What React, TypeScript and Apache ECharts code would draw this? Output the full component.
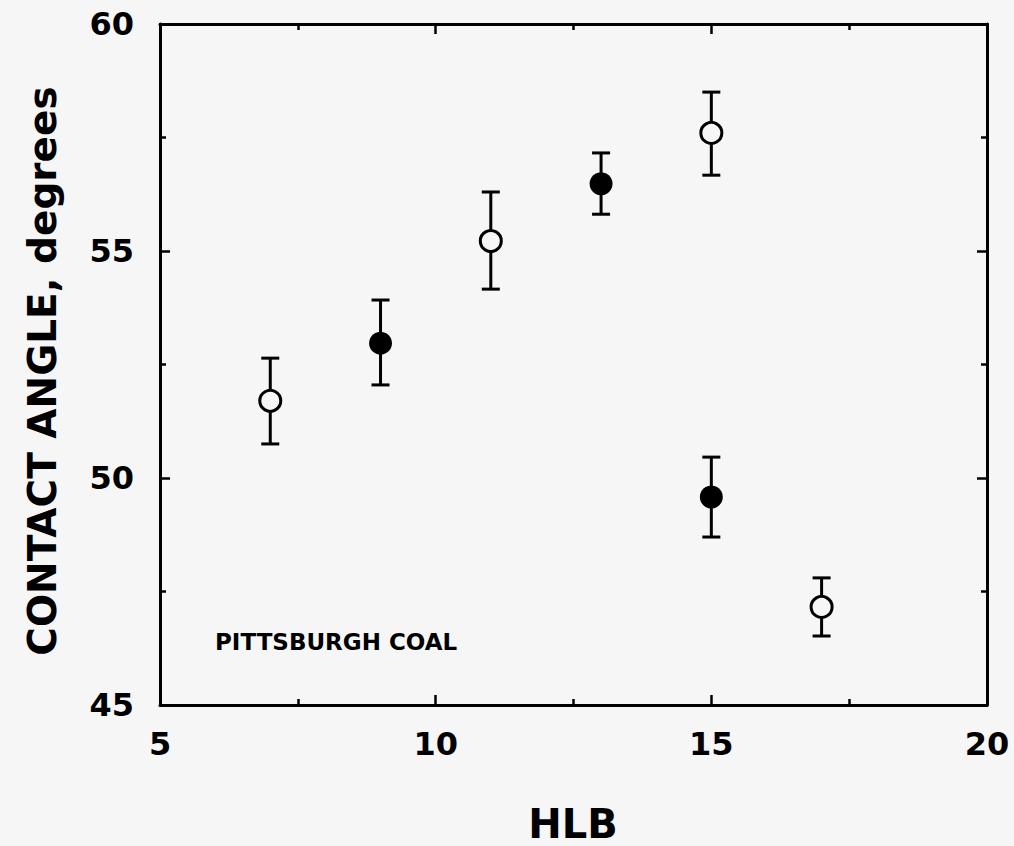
import React, { useEffect, useRef } from "react";
import * as echarts from "echarts";

const xTicks = [5, 10, 15, 20];
const yTicks = [45, 50, 55, 60];

const openHLB = [7, 11, 15, 17];
const openAngle = [51.7, 55.22, 57.6, 47.16];
const openLow = [50.75, 54.16, 56.67, 46.52];
const openHigh = [52.64, 56.3, 58.5, 47.8];

const filledHLB = [9, 13, 15];
const filledAngle = [52.97, 56.48, 49.58];
const filledLow = [52.05, 55.81, 48.7];
const filledHigh = [53.92, 57.16, 50.46];

const xTitle = "HLB";
const yTitle = "CONTACT ANGLE, degrees";
const note = "PITTSBURGH COAL";

const BG = "#f6f6f6";
const FONT = "'DejaVu Sans', 'Liberation Sans', Arial, sans-serif";

export default function App() {
  const ref = useRef<HTMLDivElement>(null);

  useEffect(() => {
    if (!ref.current) return;
    const chart = echarts.init(ref.current, null, { renderer: "svg" });

    const errData = [
      ...openHLB.map((x, i) => [x, openLow[i], openHigh[i]]),
      ...filledHLB.map((x, i) => [x, filledLow[i], filledHigh[i]]),
    ];

    const axisCommon = {
      axisLine: { show: true, onZero: false, lineStyle: { color: "#000", width: 3 } },
      axisTick: { show: true, inside: true, length: 10, lineStyle: { color: "#000", width: 2.5 } },
      minorTick: { show: true, splitNumber: 2, length: 6, lineStyle: { color: "#000", width: 2.5 } },
      splitLine: { show: false },
      minorSplitLine: { show: false },
    };

    chart.setOption({
      animation: false,
      backgroundColor: BG,
      grid: { left: 160, right: 27, top: 24, bottom: 141, containLabel: false },
      xAxis: [
        {
          type: "value",
          min: xTicks[0],
          max: xTicks[xTicks.length - 1],
          interval: 5,
          position: "bottom",
          ...axisCommon,
          axisLabel: {
            color: "#000",
            fontFamily: FONT,
            fontWeight: "bold",
            fontSize: 32,
            margin: 23,
          },
        },
        {
          type: "value",
          min: xTicks[0],
          max: xTicks[xTicks.length - 1],
          interval: 5,
          position: "top",
          ...axisCommon,
          axisLabel: { show: false },
        },
      ],
      yAxis: [
        {
          type: "value",
          min: yTicks[0],
          max: yTicks[yTicks.length - 1],
          interval: 5,
          position: "left",
          ...axisCommon,
          axisLabel: {
            color: "#000",
            fontFamily: FONT,
            fontWeight: "bold",
            fontSize: 32,
            margin: 26,
          },
        },
        {
          type: "value",
          min: yTicks[0],
          max: yTicks[yTicks.length - 1],
          interval: 5,
          position: "right",
          ...axisCommon,
          axisLabel: { show: false },
        },
      ],
      series: [
        {
          type: "custom",
          xAxisIndex: 0,
          yAxisIndex: 0,
          z: 2,
          data: errData,
          renderItem: (params: any, api: any) => {
            const lo = api.coord([api.value(0), api.value(1)]);
            const hi = api.coord([api.value(0), api.value(2)]);
            const hw = 9;
            const style = { stroke: "#000", lineWidth: 3 };
            return {
              type: "group",
              children: [
                { type: "line", shape: { x1: lo[0], y1: lo[1], x2: hi[0], y2: hi[1] }, style },
                { type: "line", shape: { x1: lo[0] - hw, y1: lo[1], x2: lo[0] + hw, y2: lo[1] }, style },
                { type: "line", shape: { x1: hi[0] - hw, y1: hi[1], x2: hi[0] + hw, y2: hi[1] }, style },
              ],
            };
          },
        },
        {
          type: "scatter",
          z: 3,
          symbol: "circle",
          symbolSize: 21,
          itemStyle: { color: BG, borderColor: "#000", borderWidth: 3, opacity: 1 },
          data: openHLB.map((x, i) => [x, openAngle[i]]),
        },
        {
          type: "scatter",
          z: 3,
          symbol: "circle",
          symbolSize: 23,
          itemStyle: { color: "#000", opacity: 1 },
          data: filledHLB.map((x, i) => [x, filledAngle[i]]),
        },
      ],
      graphic: [
        {
          type: "text",
          x: 42,
          y: 371,
          rotation: Math.PI / 2,
          style: {
            text: yTitle,
            font: `bold 39px ${FONT}`,
            fill: "#000",
            align: "center",
            verticalAlign: "middle",
          },
        },
        {
          type: "text",
          x: 573,
          y: 824,
          style: {
            text: xTitle,
            font: `bold 40px ${FONT}`,
            fill: "#000",
            align: "center",
            verticalAlign: "middle",
          },
        },
        {
          type: "text",
          x: 215,
          y: 642,
          style: {
            text: note,
            font: `bold 23px ${FONT}`,
            fill: "#000",
            align: "left",
            verticalAlign: "middle",
          },
        },
      ],
    });

    return () => chart.dispose();
  }, []);

  return (
    <div
      ref={ref}
      style={{ position: "fixed", left: 0, top: 0, width: 1014, height: 846, background: BG }}
    />
  );
}
